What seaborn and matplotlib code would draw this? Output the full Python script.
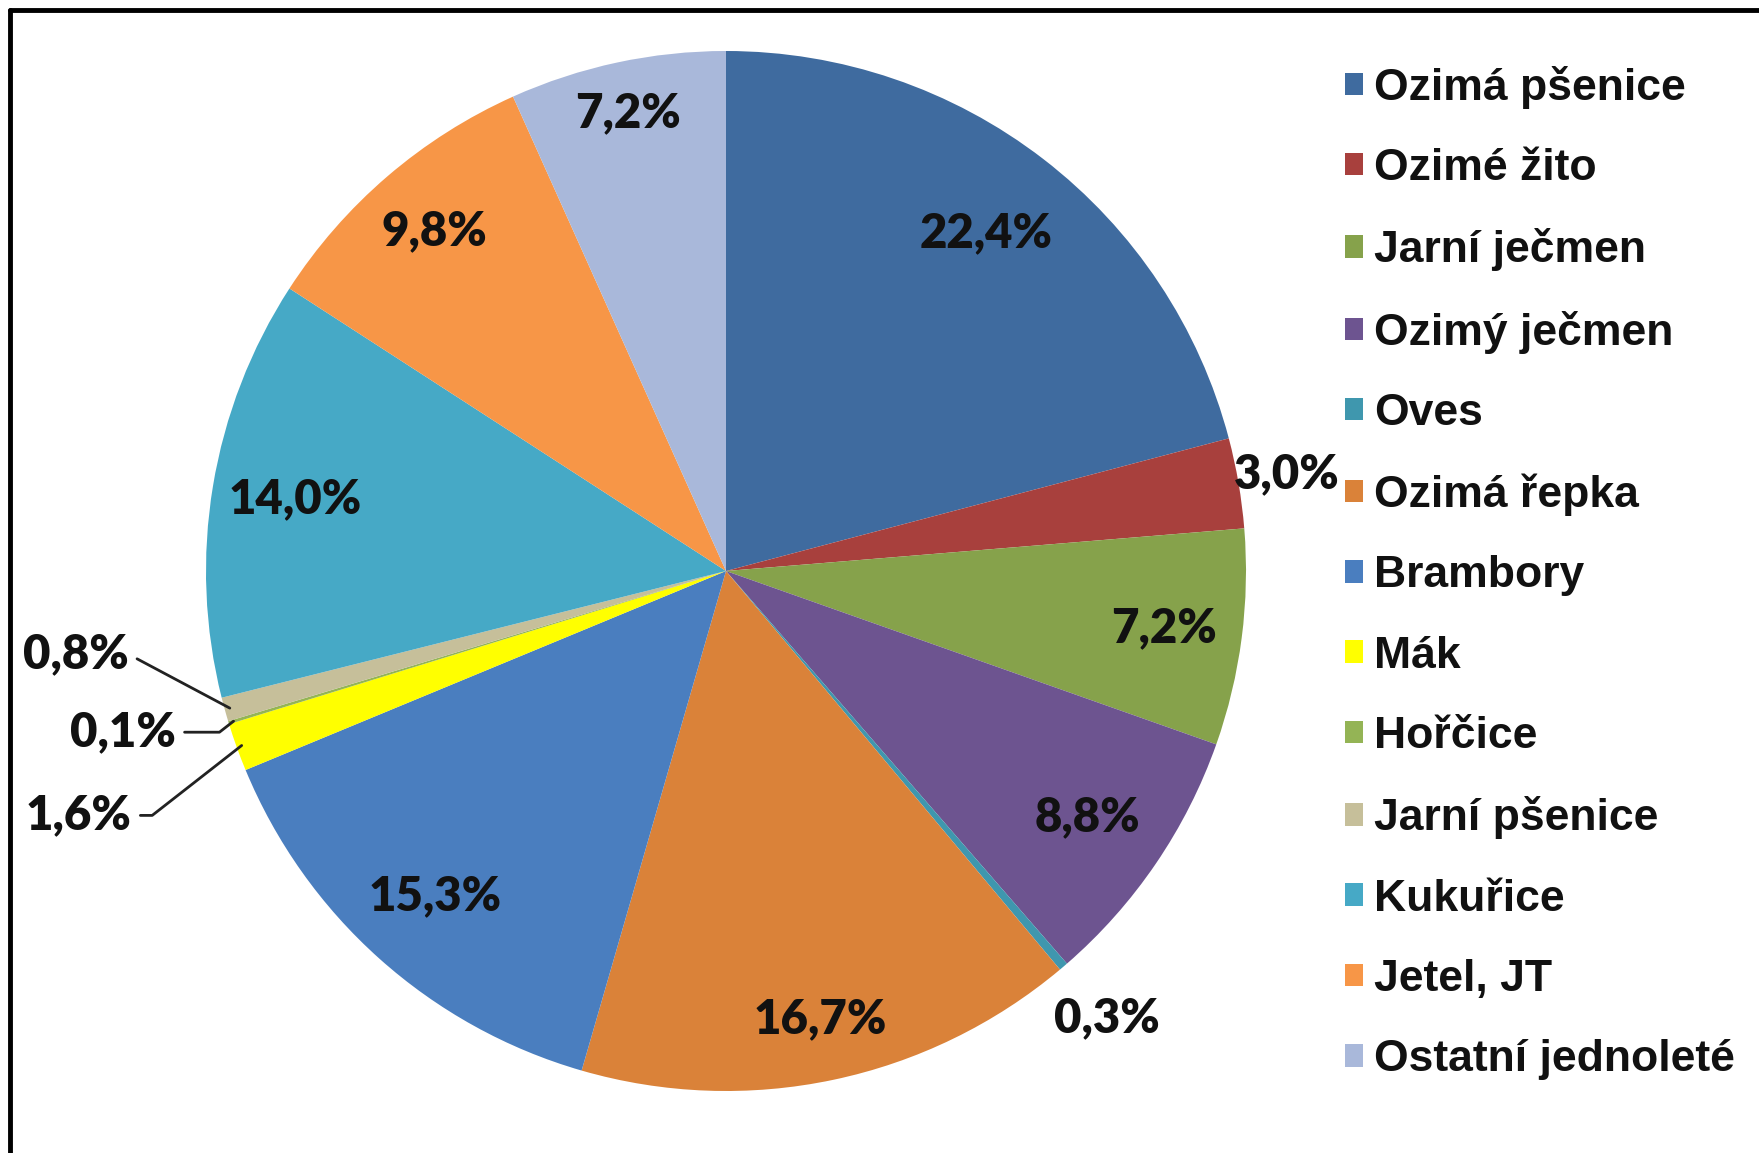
import matplotlib
matplotlib.use("Agg")
import matplotlib.pyplot as plt
import numpy as np
import seaborn as sns
from matplotlib.lines import Line2D

crops = ["Ozimá pšenice", "Ozimé žito", "Jarní ječmen", "Ozimý ječmen", "Oves",
         "Ozimá řepka", "Brambory", "Mák", "Hořčice", "Jarní pšenice",
         "Kukuřice", "Jetel, JT", "Ostatní jednoleté"]
shares = [22.4, 3.0, 7.2, 8.8, 0.3, 16.7, 15.3, 1.6, 0.1, 0.8, 14.0, 9.8, 7.2]
colors = ["#3F6B9F", "#A8403D", "#86A24B", "#6D5490", "#3F97AE", "#DA8239",
          "#4A7EBF", "#FFFF00", "#94B455", "#C6BF9A", "#46A9C6", "#F79647", "#A9B8DA"]

sns.set_theme(style="white")
plt.rcParams["font.family"] = ["Liberation Sans", "DejaVu Sans"]

fig = plt.figure(figsize=(17.59, 11.53), dpi=100)
W, H = 1759, 1153
cx, cy, r = 726, 571, 520
ax = fig.add_axes([(cx - r) / W, (H - cy - r) / H, 2 * r / W, 2 * r / H])

wedges, _ = ax.pie(shares, colors=colors, startangle=90, counterclock=False,
                   radius=1, wedgeprops=dict(linewidth=0))
ax.set_xlim(-1, 1)
ax.set_ylim(-1, 1)
ax.set_aspect("auto")
ax.axis("off")

labels = [f"{v:.1f}%".replace(".", ",") for v in shares]
# distance of each label from centre (None = leader-line label)
dist = [0.82, 1.095, 0.85, 0.84, 1.13, 0.88, 0.84, None, None, None, 0.84, 0.86, 0.9]
pct_font = dict(family=["Lato", "DejaVu Sans"], fontweight="heavy", fontsize=34, color="#111111")

# leader-line labels: text position (data units) and arrival angle
leader = {7: ((-1.245, -0.47), 38), 8: ((-1.16, -0.31), 38), 9: ((-1.25, -0.16), -28)}

for i, w in enumerate(wedges):
    mid = np.deg2rad((w.theta1 + w.theta2) / 2)
    if dist[i] is not None:
        ax.text(dist[i] * np.cos(mid), dist[i] * np.sin(mid), labels[i],
                ha="center", va="center", clip_on=False, **pct_font)
    else:
        (tx, ty), ang = leader[i]
        ax.annotate(labels[i], xy=(0.99 * np.cos(mid), 0.99 * np.sin(mid)),
                    xytext=(tx, ty), ha="center", va="center",
                    annotation_clip=False, **pct_font,
                    arrowprops=dict(arrowstyle="-", color="#222222", lw=2,
                                    shrinkA=4, shrinkB=0,
                                    connectionstyle=f"angle,angleA=0,angleB={ang},rad=0",
                                    relpos=(1.0, 0.5)))

leg = fig.legend(wedges, crops, loc="upper left", bbox_to_anchor=(0.7645, 0.943),
                 frameon=False, handlelength=0.4, handleheight=0.4,
                 handletextpad=0.25, labelspacing=0.885, borderaxespad=0, borderpad=0,
                 prop=dict(family=["Liberation Sans", "DejaVu Sans"], weight="bold", size=32))
for t in leg.get_texts():
    t.set_color("#111111")

# outer frame (only left and top edges are visible)
fig.add_artist(Line2D([10 / W, 10 / W], [0, 1 - 10 / H], transform=fig.transFigure,
                      color="black", lw=3.5))
fig.add_artist(Line2D([10 / W, 1], [1 - 10 / H, 1 - 10 / H], transform=fig.transFigure,
                      color="black", lw=3.5))

fig.savefig("out.png", dpi=100)
